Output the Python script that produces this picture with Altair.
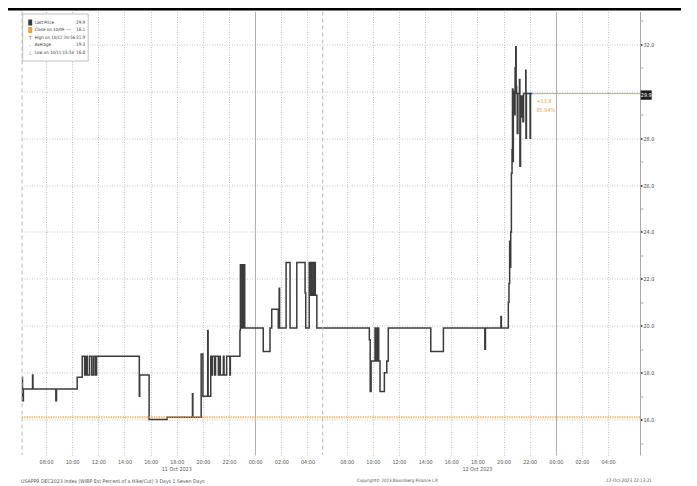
import altair as alt
import pandas as pd

# ---------------- data ----------------
series_times = [
    "10-11 06:10", "10-11 06:12", "10-11 06:16", "10-11 06:58", "10-11 07:00",
    "10-11 08:45", "10-11 08:48", "10-11 10:23", "10-11 10:46", "10-11 10:57",
    "10-11 11:03", "10-11 11:09", "10-11 11:19", "10-11 11:29", "10-11 11:37",
    "10-11 11:45", "10-11 11:52", "10-11 15:08", "10-11 15:10", "10-11 15:53",
    "10-11 17:15", "10-11 19:12", "10-11 19:14", "10-11 19:52", "10-11 20:00",
    "10-11 20:22", "10-11 20:24", "10-11 20:36", "10-11 20:40", "10-11 20:44",
    "10-11 20:54", "10-11 20:58", "10-11 21:11", "10-11 21:18", "10-11 21:20",
    "10-11 21:34", "10-11 21:37", "10-11 21:49", "10-11 22:04", "10-11 22:06",
    "10-11 22:50", "10-11 22:52", "10-11 22:56", "10-11 22:59",
    "10-11 23:03", "10-11 23:06", "10-11 23:12",
    "10-12 00:37", "10-12 01:08", "10-12 01:16", "10-12 01:46", "10-12 01:50",
    "10-12 01:52", "10-12 02:22", "10-12 02:40", "10-12 03:11", "10-12 03:49",
    "10-12 03:52", "10-12 04:08", "10-12 04:15", "10-12 04:18", "10-12 04:25",
    "10-12 04:30", "10-12 04:36", "10-12 04:43",
    "10-12 09:44", "10-12 09:48", "10-12 09:52", "10-12 10:10", "10-12 10:14",
    "10-12 10:17", "10-12 10:21", "10-12 10:25", "10-12 10:27", "10-12 10:33",
    "10-12 10:53", "10-12 11:04", "10-12 11:11", "10-12 14:26", "10-12 15:24",
    "10-12 18:34", "10-12 18:37", "10-12 19:48", "10-12 19:50", "10-12 20:22",
    "10-12 20:25", "10-12 20:28", "10-12 20:31", "10-12 20:33", "10-12 20:36",
    "10-12 20:39", "10-12 20:41", "10-12 20:43", "10-12 20:45", "10-12 20:50",
    "10-12 20:53", "10-12 20:56", "10-12 20:58", "10-12 21:00", "10-12 21:03",
    "10-12 21:06", "10-12 21:13", "10-12 21:15", "10-12 21:18", "10-12 21:23",
    "10-12 21:26", "10-12 21:29", "10-12 21:32", "10-12 21:42", "10-12 21:43",
    "10-12 21:45", "10-12 22:02", "10-12 22:04", "10-12 22:13",
]
series_values = [
    17.8, 16.8, 17.3, 17.9, 17.3,
    16.8, 17.3, 17.8, 18.7, 17.9,
    18.7, 17.9, 18.7, 17.9, 18.7,
    17.9, 18.7, 17.0, 17.9, 16.0,
    16.1, 17.1, 16.1, 18.8, 17.0,
    19.8, 17.0, 18.7, 17.9, 18.7,
    17.9, 18.7, 17.9, 18.7, 17.9,
    18.7, 17.9, 18.7, 17.9, 18.7,
    19.8, 22.6, 19.9, 22.6,
    19.9, 22.6, 19.9,
    18.9, 19.9, 20.7, 19.9, 21.6,
    19.9, 22.7, 19.9, 22.7, 21.4,
    19.9, 22.7, 21.3, 22.7, 21.3,
    22.7, 21.3, 19.9,
    19.4, 17.2, 18.5, 19.9, 18.5,
    19.9, 18.5, 19.9, 18.5, 17.2,
    18.0, 18.5, 19.9, 18.9, 19.9,
    19.0, 19.9, 20.4, 19.9, 21.0,
    21.8, 23.6, 22.5, 24.0, 26.5,
    27.5, 30.1, 27.0, 30.0, 29.0,
    31.0, 31.9, 30.2, 29.9, 28.2,
    29.9, 30.5, 26.8, 29.8, 28.9,
    29.8, 28.7, 29.9, 30.9, 28.0,
    29.9, 28.0, 29.9, 29.9,
]

last_price = 29.9
close_prev = 16.1
change_abs = "+13.8"
change_pct = "85.64%"

legend_labels = ["Last Price", "Close on 10/09 ----", "High on 10/12 20:56", "Average", "Low on 10/11 15:53"]
legend_values = ["29.9", "16.1", "31.9", "19.3", "16.0"]
legend_icons = ["", "", "T", "-", "⊥"]

y_tick_values = list(range(15, 34))
session_starts = ["10-11 06:10", "10-12 06:10"]
midnights = ["10-12 00:00", "10-13 00:00"]
date_labels = ["11 Oct 2023", "12 Oct 2023"]
date_label_times = ["10-11 18:00", "10-12 18:00"]

footer_left = "USAPPR DEC2023 Index (WIRP Est Percent of a Hike/Cut) 3 Days 1 Seven Days"
footer_mid = "Copyright\u00a9 2023 Bloomberg Finance L.P."
footer_right = "12-Oct-2023 22:13:21"

# ---------------- helpers ----------------
ORIGIN = pd.Timestamp("2023-10-11 06:00")
GAP_END = pd.Timestamp("2023-10-12 06:00")


def pos(s):
    ts = pd.Timestamp("2023-" + s)
    h = (ts - ORIGIN).total_seconds() / 3600.0
    if ts >= GAP_END:
        h -= 1.0  # compressed 1h session break
    return h


def day_ticks(d0, d1):
    return [f"{d0} {h:02d}:00" for h in range(8, 24, 2)] + [f"{d1} {h:02d}:00" for h in range(0, 6, 2)]


tick_times = day_ticks("10-11", "10-12") + day_ticks("10-12", "10-13")
tick_pos = [pos(s) for s in tick_times]
mid_pos = [pos(s) for s in midnights]

FONT = "DejaVu Sans Condensed, Liberation Sans Narrow, Liberation Sans, sans-serif"
W, H = 618, 443.5
X0, X1 = 0.16, 47.44
Y0, Y1 = 14.49, 33.40
LINE = "#3c3c3c"
ORANGE = "#f2a03d"
GRID = "#c4c4c4"
FS = 5.4

xs = alt.Scale(domain=[X0, X1], nice=False, zero=False)
ys = alt.Scale(domain=[Y0, Y1], nice=False, zero=False)

df = pd.DataFrame({"t": [pos(s) for s in series_times], "v": series_values})
t_last = df["t"].iloc[-1]

mid_test = " || ".join(f"datum.value == {p}" for p in mid_pos)
label_expr = "format((datum.value < 23 ? 6 + datum.value : 7 + datum.value) % 24, '02d') + ':00'"

x_axis = alt.Axis(
    values=tick_pos, labelExpr=label_expr, grid=True,
    gridDash={"condition": {"test": mid_test, "value": []}, "value": [1, 1.5]},
    gridColor={"condition": {"test": mid_test, "value": "#b0b0b0"}, "value": GRID},
    gridWidth=1, ticks=False, domain=False, title=None,
    labelFont=FONT, labelFontSize=FS, labelColor="#555", labelPadding=4,
    labelFlush=False, labelOverlap=False,
)
y_axis = alt.Axis(
    orient="right", values=y_tick_values,
    labelExpr="(datum.value % 2 == 0 && datum.value != 30) ? format(datum.value, '.1f') : ''",
    grid=True,
    gridOpacity={"condition": {"test": "datum.value % 2 == 0", "value": 1}, "value": 0},
    gridDash=[1, 1.5], gridColor=GRID, gridWidth=1,
    domain=True, domainColor="#a8a8a8", domainWidth=1,
    tickSize={"condition": {"test": "datum.value % 2 == 0", "value": 2}, "value": 3},
    tickColor={"condition": {"test": "datum.value % 2 == 0", "value": "#222"}, "value": "#aaa"},
    tickWidth={"condition": {"test": "datum.value % 2 == 0", "value": 1.6}, "value": 1},
    labelFont=FONT, labelFontSize=FS, labelColor="#444", labelPadding=1, title=None,
)


def X():
    return alt.X("t:Q", scale=xs, axis=x_axis)


def Y():
    return alt.Y("v:Q", scale=ys, axis=y_axis)


one = pd.DataFrame({"a": [0]})

price = alt.Chart(df).mark_line(interpolate="step-after", color=LINE, strokeWidth=1.5).encode(x=X(), y=Y())

sessions = alt.Chart(pd.DataFrame({"t": [pos(s) for s in session_starts]})).mark_rule(
    color="#b5b5b5", strokeDash=[4, 3], strokeWidth=1
).encode(x=X())

close_line = alt.Chart(pd.DataFrame({"v": [close_prev]})).mark_rule(
    color=ORANGE, strokeDash=[1.4, 1], strokeWidth=2, opacity=0.75
).encode(y=Y())

last_df = pd.DataFrame({"t": [t_last], "v": [last_price]})
last_line = alt.Chart(last_df).mark_rule(color=ORANGE, strokeWidth=1).encode(x=X(), x2=alt.value(W), y=Y())
chg1 = alt.Chart(last_df).mark_text(
    text=change_abs, color=ORANGE, font=FONT, fontSize=FS, align="left", dx=4, dy=7
).encode(x=X(), y=Y())
chg2 = alt.Chart(last_df).mark_text(
    text=change_pct, color=ORANGE, font=FONT, fontSize=FS, align="left", dx=4, dy=16
).encode(x=X(), y=Y())

box_df = pd.DataFrame({"v": [last_price + 0.2], "v2": [last_price - 0.2]})
last_box = alt.Chart(box_df).mark_rect(color="#1e1e1e", yOffset=1.5, y2Offset=1.5).encode(
    x=alt.value(W + 0.7), x2=alt.value(W + 11.7), y=Y(), y2="v2:Q",
)
last_txt = alt.Chart(pd.DataFrame({"v": [last_price]})).mark_text(
    text=f"{last_price:.1f}", color="white", font=FONT, fontSize=FS, align="center", dy=1.5
).encode(x=alt.value(W + 6.2), y=Y())

date_df = pd.DataFrame({"t": [pos(s) for s in date_label_times], "lab": date_labels})
dates = alt.Chart(date_df).mark_text(font=FONT, fontSize=FS, color="#555", baseline="middle").encode(
    x=X(), y=alt.value(457.8), text="lab:N"
)

layers = [price, sessions, close_line, last_line, chg1, chg2, last_box, last_txt, dates]

# header bar
layers.append(alt.Chart(one).mark_rect(color="#000").encode(
    x=alt.value(-15), x2=alt.value(659), y=alt.value(-3.5), y2=alt.value(-1)))

# legend box
LX, LY = 0.7, 2.5
LH = 47
layers.append(alt.Chart(one).mark_rect(fill="white", stroke="#b0b0b0", strokeWidth=0.8).encode(
    x=alt.value(LX), x2=alt.value(LX + 65.5), y=alt.value(LY), y2=alt.value(LY + LH)))
for i, (lab, val, ic) in enumerate(zip(legend_labels, legend_values, legend_icons)):
    ry = LY + 8.5 + 7.5 * i
    if i < 2:
        layers.append(alt.Chart(one).mark_rect(color=LINE if i == 0 else ORANGE).encode(
            x=alt.value(LX + 5.5), x2=alt.value(LX + 9.5), y=alt.value(ry - 3), y2=alt.value(ry + 3)))
    else:
        layers.append(alt.Chart(one).mark_text(text=ic, font=FONT, fontSize=FS, color="#777",
                                               align="center", baseline="middle").encode(
            x=alt.value(LX + 7.5), y=alt.value(ry)))
    layers.append(alt.Chart(one).mark_text(text=lab, font=FONT, fontSize=4.4, color="#333",
                                           align="left", baseline="middle").encode(
        x=alt.value(LX + 12), y=alt.value(ry)))
    layers.append(alt.Chart(one).mark_text(text=val, font=FONT, fontSize=4.6, color="#333",
                                           align="right", baseline="middle").encode(
        x=alt.value(LX + 62.5), y=alt.value(ry)))

# footer
for txt, fx, al, fs in [(footer_left, -1, "left", 5.2), (footer_mid, 335, "left", 4.4),
                        (footer_right, 630, "right", 4.6)]:
    layers.append(alt.Chart(one).mark_text(text=txt, font=FONT, fontSize=fs, color="#555",
                                           align=al, baseline="middle").encode(
        x=alt.value(fx), y=alt.value(469.8)))

chart = alt.layer(*layers).properties(
    width=W, height=H,
    autosize=alt.AutoSizeParams(type="none"),
    padding={"left": 14, "top": 3.5, "right": 49, "bottom": 31},
).configure_view(stroke=None)

chart.save("out.html", embed_options={"renderer": "svg", "actions": False})
